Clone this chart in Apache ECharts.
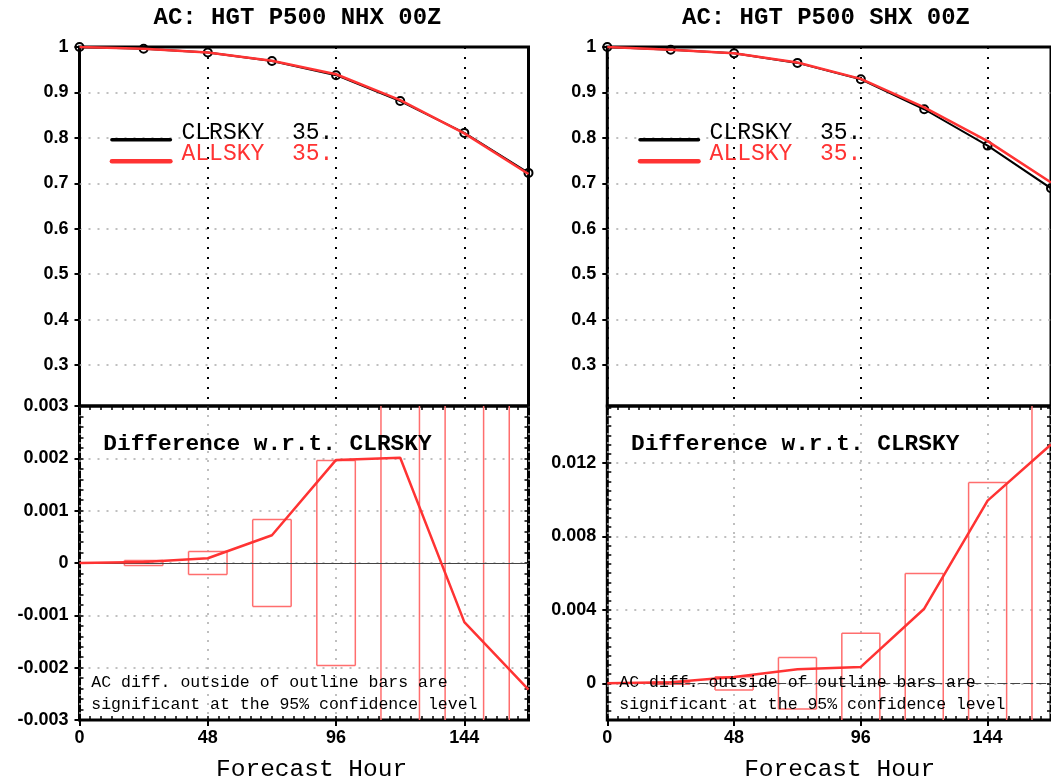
<!DOCTYPE html>
<html>
<head>
<meta charset="utf-8">
<script src="https://cdn.jsdelivr.net/npm/echarts@6/dist/echarts.min.js"></script>
<style>
html,body{margin:0;padding:0;background:#fff;}
#chart{width:1051px;height:780px;}
</style>
</head>
<body>
<div id="chart"></div>
<script>
// ---------- data ----------
const hours = [0, 24, 48, 72, 96, 120, 144, 168];
const xTicks = [0, 48, 96, 144];

// NHX
const nhxClrsky = [1.0, 0.996, 0.988, 0.969, 0.938, 0.881, 0.811, 0.723];
const nhxAllsky = [1.0, 0.99602, 0.98809, 0.96953, 0.93997, 0.88301, 0.80987, 0.72058];
const nhxDiff   = [0, 0.00002, 0.00009, 0.00053, 0.00197, 0.00201, -0.00113, -0.00242];
const nhxConf   = [0, 0.00005, 0.00022, 0.00083, 0.00196, 0.0035, 0.0045, 0.0055];

// SHX
const shxClrsky = [1.0, 0.994, 0.986, 0.965, 0.929, 0.863, 0.783, 0.689];
const shxAllsky = [1.0, 0.99405, 0.98634, 0.96576, 0.92989, 0.86706, 0.79295, 0.702];
const shxDiff   = [0, 0.00005, 0.00034, 0.00076, 0.00089, 0.00406, 0.00995, 0.0130];
const shxConf   = [0, 0.00005, 0.00036, 0.0014, 0.00273, 0.00598, 0.01093, 0.018];

const acTicks = [0.3, 0.4, 0.5, 0.6, 0.7, 0.8, 0.9, 1];
const shxDiffTicks = [0, 0.004, 0.008, 0.012];

const titles = ['AC: HGT P500 NHX 00Z', 'AC: HGT P500 SHX 00Z'];
const legendNames = ['CLRSKY', 'ALLSKY'];
const legendVals = ['35.', '35.'];

// ---------- styles ----------
const RED = '#ff3333';
const BAR = '#ff6e6e';
const MONO = '"Liberation Mono", "DejaVu Sans Mono", monospace';
const LBL = '"Liberation Sans", Arial, sans-serif';
const BAR_HALF = 7.2;

const chart = echarts.init(document.getElementById('chart'), null, {renderer: 'canvas'});

const grids = [
  {left: 79.5, top: 47, width: 449, height: 359},
  {left: 79.5, top: 406, width: 449, height: 314},
  {left: 607.3, top: 47, width: 450, height: 359},
  {left: 607.3, top: 406, width: 450, height: 314}
].map(g => Object.assign({show: true, borderColor: '#000', borderWidth: 3, backgroundColor: 'transparent', containLabel: false}, g));

const noLine = {show: false, onZero: false};

function topX(gi) {
  return {gridIndex: gi, type: 'value', min: 0, max: 168, interval: 48,
    axisLine: noLine, axisTick: {show: false}, axisLabel: {show: false},
    splitLine: {show: true, lineStyle: {color: '#000', width: 2, type: [2, 8]}}};
}
function botX(gi) {
  return {gridIndex: gi, type: 'value', min: 0, max: 168, interval: 48, position: 'bottom',
    axisLine: noLine,
    axisTick: {show: true, length: 6, lineStyle: {color: '#000', width: 2}},
    axisLabel: {show: true, showMaxLabel: false, margin: 9, color: '#000', fontFamily: LBL, fontWeight: 'bold', fontSize: 18},
    splitLine: {show: true, lineStyle: {color: '#aaa', width: 1.5, type: [2, 7]}}};
}
function minorX(gi, pos) {
  return {gridIndex: gi, type: 'value', min: 0, max: 168, interval: 4, position: pos,
    axisLine: noLine, axisLabel: {show: false}, splitLine: {show: false},
    axisTick: {show: true, inside: true, length: 4, lineStyle: {color: '#000', width: 1.5}}};
}
function minorY(gi, pos, min, max, interval) {
  return {gridIndex: gi, type: 'value', min: min, max: max, interval: interval, position: pos,
    axisLine: noLine, axisLabel: {show: false}, splitLine: {show: false},
    axisTick: {show: true, inside: true, length: 4, lineStyle: {color: '#000', width: 1.5}}};
}
const yLabel = {show: true, margin: 11, color: '#000', fontFamily: LBL, fontWeight: 'bold', fontSize: 18};
const yTick = {show: true, length: 5, lineStyle: {color: '#000', width: 2}};

function acY(gi) {
  return {gridIndex: gi, type: 'value', min: 0.21, max: 1, position: 'left',
    axisLine: noLine,
    axisTick: Object.assign({customValues: acTicks}, yTick),
    axisLabel: Object.assign({customValues: acTicks}, yLabel),
    splitLine: {show: true, showMaxLine: false, lineStyle: {color: '#aaa', width: 1.5, type: [2, 7]}}};
}

const xAxes = [topX(0), botX(1), topX(2), botX(3),
  minorX(1, 'bottom'), minorX(1, 'top'), minorX(3, 'bottom'), minorX(3, 'top')];
const yAxes = [
  acY(0),
  {gridIndex: 1, type: 'value', min: -0.003, max: 0.003, interval: 0.001, position: 'left',
    axisLine: noLine, axisTick: yTick, axisLabel: yLabel,
    splitLine: {show: true, showMinLine: false, showMaxLine: false, lineStyle: {color: '#aaa', width: 1.5, type: [2, 7]}}},
  acY(2),
  {gridIndex: 3, type: 'value', min: -0.002, max: 0.0151, position: 'left',
    axisLine: noLine,
    axisTick: Object.assign({customValues: shxDiffTicks}, yTick),
    axisLabel: Object.assign({customValues: shxDiffTicks}, yLabel),
    splitLine: {show: true, lineStyle: {color: '#aaa', width: 1.5, type: [2, 7]}}},
  minorY(1, 'left', -0.003, 0.003, 0.0002), minorY(1, 'right', -0.003, 0.003, 0.0002),
  minorY(3, 'left', -0.002, 0.0151, 0.0005), minorY(3, 'right', -0.002, 0.0151, 0.0005)
];

function pairs(ys) { return hours.map((h, i) => [h, ys[i]]); }

function barRender(params, api) {
  const x = api.value(0), ci = api.value(1);
  if (!ci) return null;
  const cs = params.coordSys;
  const p1 = api.coord([x - BAR_HALF, ci]);
  const p2 = api.coord([x + BAR_HALF, -ci]);
  const x0 = cs.x, x1 = cs.x + cs.width, y0 = cs.y, y1 = cs.y + cs.height;
  const xl = p1[0], xr = p2[0], yt = p1[1], yb = p2[1];
  const st = {stroke: BAR, lineWidth: 1.5, fill: null};
  const ytc = Math.max(yt, y0), ybc = Math.min(yb, y1);
  const xlc = Math.max(xl, x0), xrc = Math.min(xr, x1);
  const children = [];
  if (xl >= x0 && xl <= x1) children.push({type: 'line', shape: {x1: xl, y1: ytc, x2: xl, y2: ybc}, style: st});
  if (xr >= x0 && xr <= x1) children.push({type: 'line', shape: {x1: xr, y1: ytc, x2: xr, y2: ybc}, style: st});
  if (yt >= y0) children.push({type: 'line', shape: {x1: xlc, y1: yt, x2: xrc, y2: yt}, style: st});
  if (yb <= y1) children.push({type: 'line', shape: {x1: xlc, y1: yb, x2: xrc, y2: yb}, style: st});
  return {type: 'group', children: children};
}

function panelSeries(xi, yi, clr, all, xbi, ybi, diff, conf, zeroDash) {
  return [
    {name: 'CLRSKY', type: 'line', xAxisIndex: xi, yAxisIndex: yi, data: pairs(clr),
      lineStyle: {color: '#000', width: 2}, symbol: 'circle', symbolSize: 8, showSymbol: true,
      itemStyle: {color: 'rgba(0,0,0,0)', borderColor: '#000', borderWidth: 2}, z: 3, animation: false},
    {name: 'ALLSKY', type: 'line', xAxisIndex: xi, yAxisIndex: yi, data: pairs(all),
      lineStyle: {color: RED, width: 2.5}, showSymbol: false, symbol: 'none', z: 4, animation: false},
    {name: 'CI', type: 'custom', xAxisIndex: xbi, yAxisIndex: ybi, data: pairs(conf),
      renderItem: barRender, z: 2, animation: false, silent: true},
    {name: 'DIFF', type: 'line', xAxisIndex: xbi, yAxisIndex: ybi, data: pairs(diff),
      lineStyle: {color: RED, width: 2.5}, showSymbol: false, symbol: 'none', z: 5, animation: false,
      markLine: {silent: true, symbol: 'none', label: {show: false}, animation: false,
        lineStyle: {color: '#444', width: 1.2, type: zeroDash ? [10, 3] : 'solid'}, data: [{yAxis: 0}]}}
  ];
}

const series = [].concat(
  panelSeries(0, 0, nhxClrsky, nhxAllsky, 1, 1, nhxDiff, nhxConf, false),
  panelSeries(2, 2, shxClrsky, shxAllsky, 3, 3, shxDiff, shxConf, true)
);

// annotations
const panels = [{cx: 297.5, fh: 311.6, leg: 111.9, note: 91.3, diff: 103.3},
                {cx: 826, fh: 839.7, leg: 640, note: 619.3, diff: 631}];
const graphics = [];
panels.forEach((p, k) => {
  graphics.push({type: 'text', x: p.cx, y: 18, z: 100, style: {text: titles[k], fill: '#000',
    font: 'bold 24px ' + MONO, textAlign: 'center', textVerticalAlign: 'middle'}});
  graphics.push({type: 'text', x: p.fh, y: 770, z: 100, style: {text: 'Forecast Hour', fill: '#000',
    font: '24.5px ' + MONO, textAlign: 'center', textVerticalAlign: 'middle'}});
  graphics.push({type: 'text', x: p.diff, y: 444, z: 100, style: {text: 'Difference w.r.t. CLRSKY', fill: '#000',
    font: 'bold 22.8px ' + MONO, textAlign: 'left', textVerticalAlign: 'middle'}});
  graphics.push({type: 'text', x: p.note, y: 682.7, z: 100, style: {text: 'AC diff. outside of outline bars are', fill: '#000',
    font: '16.5px ' + MONO, textAlign: 'left', textVerticalAlign: 'middle'}});
  graphics.push({type: 'text', x: p.note, y: 704.3, z: 100, style: {text: 'significant at the 95% confidence level', fill: '#000',
    font: '16.5px ' + MONO, textAlign: 'left', textVerticalAlign: 'middle'}});
  // legend keys
  graphics.push({type: 'line', z: 100, shape: {x1: p.leg, y1: 139.7, x2: p.leg + 58.5, y2: 139.7},
    style: {stroke: '#000', lineWidth: 3.5, lineCap: 'round'}});
  graphics.push({type: 'line', z: 100, shape: {x1: p.leg, y1: 161.3, x2: p.leg + 58.5, y2: 161.3},
    style: {stroke: RED, lineWidth: 4.5, lineCap: 'round'}});
  graphics.push({type: 'text', x: p.leg + 69.6, y: 133, z: 100, style: {text: legendNames[0] + '  ' + legendVals[0], fill: '#000',
    font: '23px ' + MONO, textAlign: 'left', textVerticalAlign: 'middle'}});
  graphics.push({type: 'text', x: p.leg + 69.6, y: 154.3, z: 100, style: {text: legendNames[1] + '  ' + legendVals[1], fill: RED,
    font: '23px ' + MONO, textAlign: 'left', textVerticalAlign: 'middle'}});
});

chart.setOption({
  animation: false,
  backgroundColor: '#fff',
  grid: grids,
  xAxis: xAxes,
  yAxis: yAxes,
  series: series,
  graphic: graphics
});
</script>
</body>
</html>
